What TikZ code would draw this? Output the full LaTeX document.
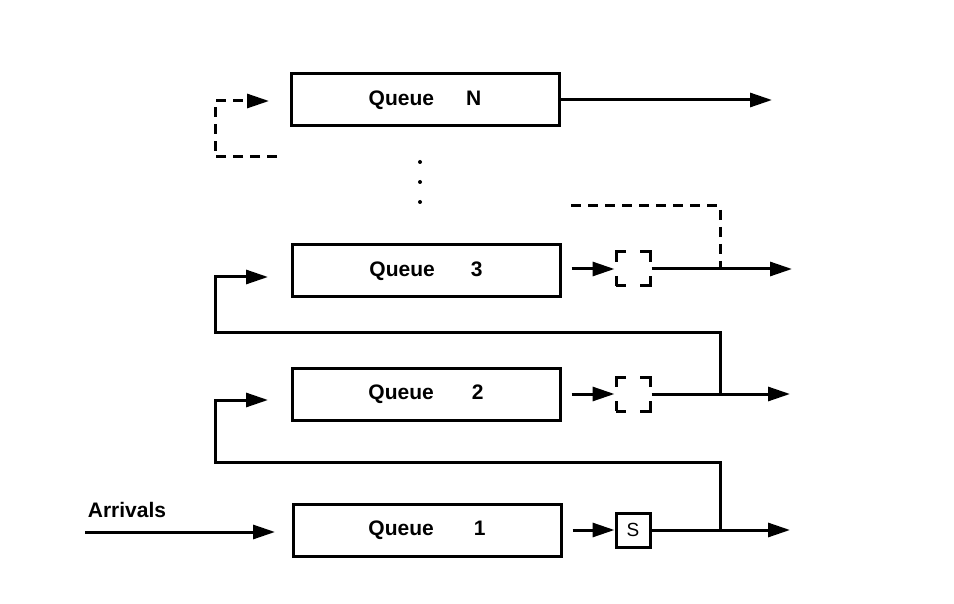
\documentclass[tikz,border=0pt]{standalone}
\usepackage{fontspec}
\setmainfont{Liberation Sans}
\usetikzlibrary{arrows.meta}

\begin{document}
\begin{tikzpicture}[x=1pt, y=-1pt,
		queue_style/.style={rectangle,draw=black,line width=3pt,minimum width=268pt,minimum height=52pt,inner sep=0pt,font=\fontsize{21}{25}\selectfont\bfseries},
		server_style/.style={rectangle,draw=black,line width=3pt,minimum size=34pt,inner sep=0pt,font=\fontsize{19}{23}\selectfont},
		idle_style/.style={server_style,dash pattern=on 20pt off 14pt,dash phase=10pt},
		edge_style/.style={draw=black,line width=3pt},
		arrow_style/.style={edge_style,-{Triangle[length=22pt,width=14pt]}},
		dash_style/.style={edge_style,dash pattern=on 10pt off 7pt}]

		\useasboundingbox (0,0) rectangle (954,604);

		\node[queue_style] (qN) at (425,100)  {Queue\hspace{32pt}N};
		\node[queue_style] (q3) at (426,271)  {Queue\hspace{36pt}3};
		\node[queue_style] (q2) at (426,394)  {Queue\hspace{38pt}2};
		\node[queue_style] (q1) at (427,530)  {Queue\hspace{40pt}1};
		\node[idle_style] (s3) at (633,269)  {};
		\node[idle_style] (s2) at (633,394)  {};
		\node[server_style] (s1) at (633,530)  {S};
		\node[font=\fontsize{21}{25}\selectfont\bfseries] (arr) at (127,510)  {Arrivals};

		\coordinate (outN) at (772,100);
		\coordinate (out3) at (792,269);
		\coordinate (out2) at (790,394);
		\coordinate (out1) at (790,530);
		\coordinate (j3) at (720,269);
		\coordinate (j2) at (720,394);
		\coordinate (j1) at (720,530);
		\coordinate (inN) at (269,101);
		\coordinate (in3) at (268,277);
		\coordinate (in2) at (268,400);
		\coordinate (in1) at (275,532);
		\coordinate (src) at (85,532);
		\coordinate (backN) at (277,157);
		\coordinate (fb) at (571,206);

		\fill (420,162) circle (2pt);
		\fill (420,182) circle (2pt);
		\fill (420,202) circle (2pt);

		\draw[arrow_style]  (qN.east) -- (outN);
		\draw[dash_style,-{Triangle[length=22pt,width=14pt]}]  (backN) -- ++(-62,0) |- (inN);
		\draw[arrow_style,shorten <=10pt]  (q3.east |- s3.west) -- (s3.west);
		\draw[arrow_style]  (s3.east) -- (out3);
		\draw[dash_style]  (fb) -| (j3);
		\draw[arrow_style,shorten <=10pt]  (q2.east |- s2.west) -- (s2.west);
		\draw[arrow_style]  (s2.east) -- (out2);
		\draw[arrow_style]  (j2) |- (215,333) |- (in3);
		\draw[arrow_style,shorten <=10pt]  (q1.east |- s1.west) -- (s1.west);
		\draw[arrow_style]  (s1.east) -- (out1);
		\draw[arrow_style]  (j1) |- (215,462) |- (in2);
		\draw[arrow_style]  (src) -- (in1);
\end{tikzpicture}
\end{document}
